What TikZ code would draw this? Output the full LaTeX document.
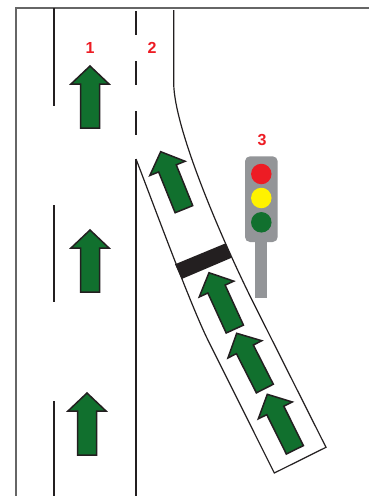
\documentclass[tikz,border=0pt]{standalone}
\usepackage{fontspec}
\setmainfont{Liberation Sans}
\definecolor{lanegreen}{RGB}{17,112,46}
\definecolor{signalred}{RGB}{237,28,36}
\definecolor{signalyellow}{RGB}{255,242,0}
\definecolor{polegray}{RGB}{147,149,152}
\definecolor{roadblack}{RGB}{35,31,32}
\usetikzlibrary{calc}

\begin{document}
\begin{tikzpicture}[
  x=1pt, y=-1pt,
  frameline/.style={draw=black!60, line width=1.3pt},
  roadline/.style={draw=roadblack, line width=1.2pt},
  lanedash/.style={draw=roadblack, line width=1.5pt},
  lanearrow/.style={draw=roadblack, fill=lanegreen, line width=1.5pt, miter limit=4},
  lampbody/.style={fill=polegray, draw=none},
  lamp/.style={circle, minimum size=20.5pt, inner sep=0pt, draw=none},
  lbl/.style={font=\bfseries\fontsize{16}{16}\selectfont, text=signalred, inner sep=0pt}
]
  \useasboundingbox (0,0) rectangle (369,496);
  \fill[white] (0,0) rectangle (369,496);

  % frame
  \draw[frameline] (369,8) -- (16,8) -- (16,496);

  % lane lines
  \draw[roadline] (54,8) -- (54,106);
  \draw[roadline] (54,205) -- (54,302);
  \draw[roadline] (54,401) -- (54,496);
  \foreach \dy in {11,61,111}
    \draw[lanedash] (136,\dy) -- (136,\dy+24);
  \draw[lanedash] (136,159) -- (136,496);

  % slip lane
  \draw[roadline] (136,159) .. controls (150,195) and (190,304) .. (208,340.2) -- (274.3,473) -- (326,447.3) -- (257,310) .. controls (225,247) and (174,130) .. (173.7,83) -- (173.7,10);
  \fill[roadblack] (175,264.3) -- (225.7,243.3) -- (231.7,257.7) -- (181.7,279) -- cycle;

  % arrows: tip x / tip y / angle
  \foreach \ax/\ay/\ang in {90/66/0, 90/230/0, 87/393/0, 160.7/151.7/22, 209/272.7/24.6, 236.7/333.3/27, 267.3/394.3/26.4}
    \draw[lanearrow, shift={(\ax,\ay)}, rotate=\ang] (0,0) -- (19,18) -- (9.5,18) -- (9.5,62) -- (-9.5,62) -- (-9.5,18) -- (-19,18) -- cycle;

  % signal
  \fill[lampbody] (254.7,240) rectangle (267.3,298);
  \fill[lampbody, rounded corners=5pt] (245,156.3) rectangle (277.7,242);
  \node[lamp, fill=signalred] (redlamp) at (261.3,174) {};
  \node[lamp, fill=signalyellow] (yellowlamp) at (261.3,198) {};
  \node[lamp, fill=lanegreen] (greenlamp) at (261.3,222.3) {};

  \node[lbl] (lane1) at (90,47.5) {1};
  \node[lbl] (lane2) at (152,47.5) {2};
  \node[lbl] (signal3) at (262,140) {3};
\end{tikzpicture}
\end{document}
